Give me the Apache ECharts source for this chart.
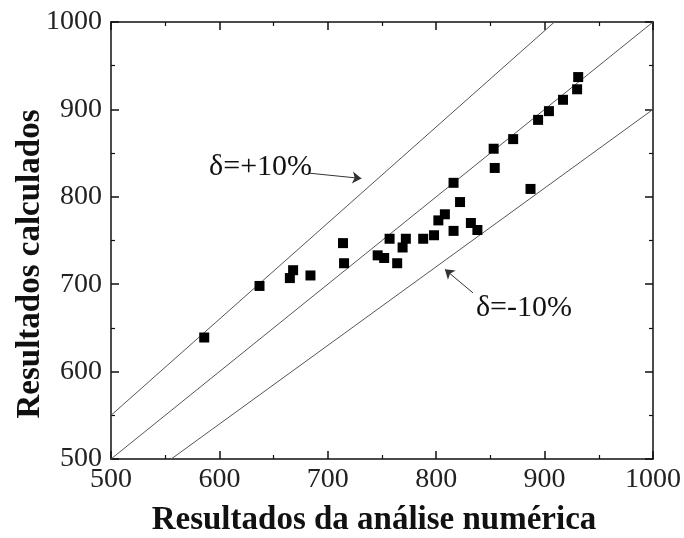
<!DOCTYPE html>
<html><head><meta charset="utf-8">
<script src="https://cdn.jsdelivr.net/npm/echarts@6/dist/echarts.min.js"></script>
<style>html,body{margin:0;padding:0;background:#fff}#c{width:684px;height:538px}</style>
</head><body><div id="c"></div>
<script>
const xNumeric = [586,637,665,668,684,714,715,746,752,757,764,769,772,788,798,802,808,816,816,822,832,838,853,854,871,887,894,904,917,930,931];
const yCalc    = [639,698,707,716,710,747,724,733,730,752,724,742,752,752,756,773,780,816,761,794,770,762,855,833,866,809,888,898,911,923,937];
const axisMin = 500, axisMax = 1000, axisStep = 100;
const refRatios = [1.1, 1.0, 0.9];
const labelPlus = 'δ=+10%', labelMinus = 'δ=-10%';
const labelPlusPos = [638, 834], labelMinusPos = [881, 673];
const arrowPlus = [[683, 827], [731, 821]];
const arrowMinus = [[834, 690], [808, 717]];

const font = '"Liberation Serif","Times New Roman",serif';
const chart = echarts.init(document.getElementById('c'));

function refLine(r) {
  const x0 = Math.max(axisMin, axisMin / r), x1 = Math.min(axisMax, axisMax / r);
  return [[x0, x0 * r], [x1, x1 * r]];
}
const axisCommon = {
  type: 'value', min: axisMin, max: axisMax, interval: axisStep,
  axisLine: {show: true, onZero: false, lineStyle: {color: '#111', width: 1.5}},
  axisTick: {show: true, inside: true, length: 8, lineStyle: {color: '#111', width: 1.5}},
  minorTick: {show: true, splitNumber: 2, length: 4, lineStyle: {color: '#111', width: 1.2}},
  splitLine: {show: false}
};
const lab = {show: true, fontFamily: font, fontSize: 28, color: '#222', formatter: v => String(v)};
chart.setOption({
  animation: false,
  grid: {left: 111, right: 27, top: 22, bottom: 79},
  xAxis: [
    Object.assign({}, axisCommon, {position: 'bottom', axisLabel: Object.assign({}, lab, {margin: 7})}),
    Object.assign({}, axisCommon, {position: 'top', axisLabel: {show: false}})
  ],
  yAxis: [
    Object.assign({}, axisCommon, {position: 'left', axisLabel: Object.assign({}, lab, {margin: 9})}),
    Object.assign({}, axisCommon, {position: 'right', axisLabel: {show: false}})
  ],
  graphic: [
    {type: 'text', x: 374, y: 520, style: {text: 'Resultados da análise numérica', font: 'bold 33px ' + font, fill: '#111', align: 'center', verticalAlign: 'middle'}, z: 10},
    {type: 'text', x: 30, y: 264, rotation: Math.PI / 2, style: {text: 'Resultados calculados', font: 'bold 33px ' + font, fill: '#111', align: 'center', verticalAlign: 'middle'}, z: 10}
  ],
  series: [
    ...refRatios.map(r => ({
      type: 'line', data: refLine(r), symbol: 'none', silent: true,
      lineStyle: {color: '#555', width: 1}
    })),
    {
      type: 'lines', coordinateSystem: 'cartesian2d', silent: true,
      symbol: ['none', 'arrow'], symbolSize: 9,
      lineStyle: {color: '#333', width: 1, opacity: 1},
      data: [{coords: arrowPlus}, {coords: arrowMinus}]
    },
    {
      type: 'scatter', symbol: 'rect', symbolSize: [10, 10],
      itemStyle: {color: '#000', opacity: 1}, data: xNumeric.map((x, i) => [x, yCalc[i]]), z: 5
    },
    {
      type: 'scatter', symbolSize: 0, silent: true,
      label: {show: true, position: 'inside', fontFamily: font, fontSize: 30, color: '#111', opacity: 1,
        formatter: p => p.data[2]},
      data: [[labelPlusPos[0], labelPlusPos[1], labelPlus], [labelMinusPos[0], labelMinusPos[1], labelMinus]]
    }
  ]
});
</script></body></html>
